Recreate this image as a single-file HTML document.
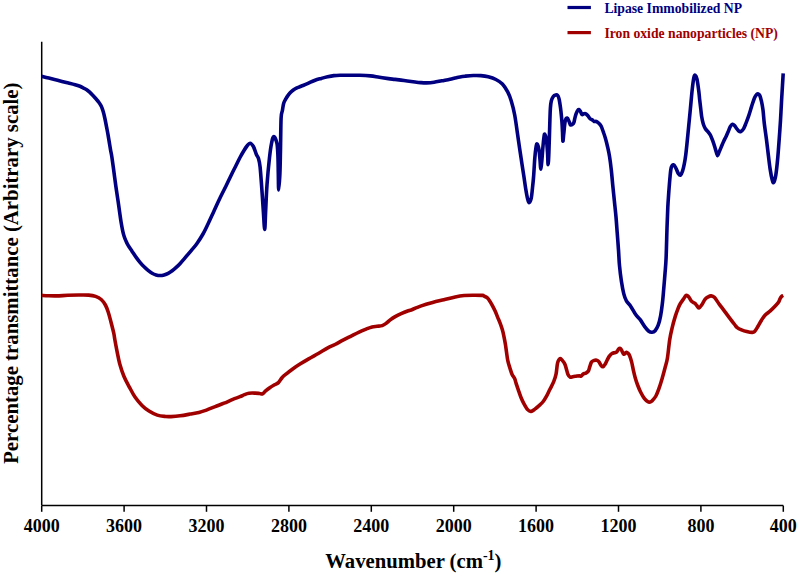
<!DOCTYPE html>
<html><head><meta charset="utf-8"><style>
html,body{margin:0;padding:0;background:#fff;}
svg{display:block;}
text{font-family:"Liberation Serif",serif;font-weight:bold;}
</style></head><body>
<svg width="797" height="575" viewBox="0 0 797 575">
<rect width="797" height="575" fill="#fff"/>
<g stroke="#000" stroke-width="1.5" fill="none">
<line x1="41.7" y1="41.7" x2="41.7" y2="505.6"/>
<line x1="41.7" y1="505.6" x2="783.3" y2="505.6"/>
<line x1="41.70" y1="505.6" x2="41.70" y2="511.8"/><line x1="124.10" y1="505.6" x2="124.10" y2="511.8"/><line x1="206.50" y1="505.6" x2="206.50" y2="511.8"/><line x1="288.90" y1="505.6" x2="288.90" y2="511.8"/><line x1="371.30" y1="505.6" x2="371.30" y2="511.8"/><line x1="453.70" y1="505.6" x2="453.70" y2="511.8"/><line x1="536.10" y1="505.6" x2="536.10" y2="511.8"/><line x1="618.50" y1="505.6" x2="618.50" y2="511.8"/><line x1="700.90" y1="505.6" x2="700.90" y2="511.8"/><line x1="783.30" y1="505.6" x2="783.30" y2="511.8"/>
</g>
<g font-size="18" fill="#000"><text x="41.70" y="532" text-anchor="middle">4000</text><text x="124.10" y="532" text-anchor="middle">3600</text><text x="206.50" y="532" text-anchor="middle">3200</text><text x="288.90" y="532" text-anchor="middle">2800</text><text x="371.30" y="532" text-anchor="middle">2400</text><text x="453.70" y="532" text-anchor="middle">2000</text><text x="536.10" y="532" text-anchor="middle">1600</text><text x="618.50" y="532" text-anchor="middle">1200</text><text x="700.90" y="532" text-anchor="middle">800</text><text x="783.30" y="532" text-anchor="middle">400</text></g>
<path d="M41.70,295.40 C42.80,295.47 45.80,295.72 48.30,295.80 C50.80,295.88 53.45,295.98 56.70,295.90 C59.95,295.82 64.10,295.45 67.80,295.30 C71.50,295.15 75.42,295.03 78.90,295.00 C82.38,294.97 85.92,294.87 88.70,295.10 C91.48,295.33 93.52,295.67 95.60,296.40 C97.68,297.13 99.57,298.07 101.20,299.50 C102.83,300.93 104.23,302.92 105.40,305.00 C106.57,307.08 107.28,309.22 108.20,312.00 C109.12,314.78 109.98,318.22 110.90,321.70 C111.82,325.18 113.03,329.85 113.70,332.90 C114.37,335.95 114.35,336.97 114.90,340.00 C115.45,343.03 116.20,347.15 117.00,351.10 C117.80,355.05 118.55,359.52 119.70,363.70 C120.85,367.88 122.27,372.27 123.90,376.20 C125.53,380.13 127.65,383.83 129.50,387.30 C131.35,390.77 132.92,393.98 135.00,397.00 C137.08,400.02 139.67,403.07 142.00,405.40 C144.33,407.73 146.45,409.38 149.00,411.00 C151.55,412.62 154.52,414.18 157.30,415.10 C160.08,416.02 163.42,416.25 165.70,416.50 C167.98,416.75 168.60,416.72 171.00,416.60 C173.40,416.48 176.92,416.22 180.10,415.80 C183.28,415.38 186.97,414.67 190.10,414.10 C193.23,413.53 196.18,413.07 198.90,412.40 C201.62,411.73 203.68,411.07 206.40,410.10 C209.12,409.13 212.27,407.75 215.20,406.60 C218.13,405.45 221.07,404.40 224.00,403.20 C226.93,402.00 230.13,400.48 232.80,399.40 C235.47,398.32 238.05,397.50 240.00,396.70 C241.95,395.90 243.00,395.18 244.50,394.60 C246.00,394.02 247.23,393.45 249.00,393.20 C250.77,392.95 253.33,393.05 255.10,393.10 C256.87,393.15 258.35,393.37 259.60,393.50 C260.85,393.63 261.60,394.33 262.60,393.90 C263.60,393.47 264.35,391.97 265.60,390.90 C266.85,389.83 268.60,388.52 270.10,387.50 C271.60,386.48 273.22,385.62 274.60,384.80 C275.98,383.98 277.13,383.82 278.40,382.60 C279.67,381.38 280.82,379.00 282.20,377.50 C283.58,376.00 284.95,375.02 286.70,373.60 C288.45,372.18 290.48,370.58 292.70,369.00 C294.92,367.42 297.33,365.78 300.00,364.10 C302.67,362.42 305.65,360.67 308.70,358.90 C311.75,357.13 315.12,355.33 318.30,353.50 C321.48,351.67 325.02,349.40 327.80,347.90 C330.58,346.40 332.47,345.78 335.00,344.50 C337.53,343.22 340.32,341.60 343.00,340.20 C345.68,338.80 348.42,337.45 351.10,336.10 C353.78,334.75 356.60,333.27 359.10,332.10 C361.60,330.93 363.93,329.97 366.10,329.10 C368.27,328.23 370.25,327.37 372.10,326.90 C373.95,326.43 375.52,326.52 377.20,326.30 C378.88,326.08 380.70,326.10 382.20,325.60 C383.70,325.10 384.87,324.25 386.20,323.30 C387.53,322.35 388.70,321.02 390.20,319.90 C391.70,318.78 393.37,317.65 395.20,316.60 C397.03,315.55 399.02,314.57 401.20,313.60 C403.38,312.63 406.83,311.33 408.30,310.80 C409.77,310.27 407.83,311.22 410.00,310.40 C412.17,309.58 417.53,307.22 421.30,305.90 C425.07,304.58 428.83,303.53 432.60,302.50 C436.37,301.47 440.13,300.63 443.90,299.70 C447.67,298.77 451.82,297.60 455.20,296.90 C458.58,296.20 461.20,295.78 464.20,295.50 C467.20,295.22 470.18,295.22 473.20,295.20 C476.22,295.18 480.47,295.23 482.30,295.40 C484.13,295.57 483.40,295.82 484.20,296.20 C485.00,296.58 486.18,296.92 487.10,297.70 C488.02,298.48 488.82,299.58 489.70,300.90 C490.58,302.22 491.52,303.95 492.40,305.60 C493.28,307.25 494.13,308.88 495.00,310.80 C495.87,312.72 496.73,315.02 497.60,317.10 C498.47,319.18 499.42,321.22 500.20,323.30 C500.98,325.38 501.70,327.52 502.30,329.60 C502.90,331.68 503.28,333.37 503.80,335.80 C504.32,338.23 504.95,341.50 505.40,344.20 C505.85,346.90 506.10,349.25 506.50,352.00 C506.90,354.75 507.23,358.03 507.80,360.70 C508.37,363.37 509.20,365.75 509.90,368.00 C510.60,370.25 511.22,372.43 512.00,374.20 C512.78,375.97 513.90,377.03 514.60,378.60 C515.30,380.17 515.58,381.72 516.20,383.60 C516.82,385.48 517.52,387.63 518.30,389.90 C519.08,392.17 519.95,394.88 520.90,397.20 C521.85,399.52 522.83,401.68 524.00,403.80 C525.17,405.92 526.73,408.63 527.90,409.90 C529.07,411.17 529.83,411.53 531.00,411.40 C532.17,411.27 533.60,410.02 534.90,409.10 C536.20,408.18 537.48,407.08 538.80,405.90 C540.12,404.72 541.48,403.68 542.80,402.00 C544.12,400.32 545.53,397.88 546.70,395.80 C547.87,393.72 548.63,391.85 549.80,389.50 C550.97,387.15 552.65,384.32 553.70,381.70 C554.75,379.08 555.45,376.93 556.10,373.80 C556.75,370.67 556.93,365.42 557.60,362.90 C558.27,360.38 559.28,359.08 560.10,358.70 C560.92,358.32 561.70,359.68 562.50,360.60 C563.30,361.52 564.23,362.73 564.90,364.20 C565.57,365.67 565.98,367.67 566.50,369.40 C567.02,371.13 567.40,373.30 568.00,374.60 C568.60,375.90 569.32,376.85 570.10,377.20 C570.88,377.55 571.73,376.87 572.70,376.70 C573.67,376.53 574.77,376.37 575.90,376.20 C577.03,376.03 578.63,375.70 579.50,375.70 C580.37,375.70 580.48,376.47 581.10,376.20 C581.72,375.93 582.42,374.62 583.20,374.10 C583.98,373.58 584.93,373.62 585.80,373.10 C586.67,372.58 587.72,372.13 588.40,371.00 C589.08,369.87 589.38,367.78 589.90,366.30 C590.42,364.82 590.88,363.05 591.50,362.10 C592.12,361.15 592.73,360.92 593.60,360.60 C594.47,360.28 595.83,360.03 596.70,360.20 C597.57,360.37 598.10,360.77 598.80,361.60 C599.50,362.43 600.20,364.33 600.90,365.20 C601.60,366.07 602.30,366.97 603.00,366.80 C603.70,366.63 604.40,365.33 605.10,364.20 C605.80,363.07 606.52,361.30 607.20,360.00 C607.88,358.70 608.43,357.47 609.20,356.40 C609.97,355.33 610.92,354.22 611.80,353.60 C612.68,352.98 613.72,352.93 614.50,352.70 C615.28,352.47 615.82,352.80 616.50,352.20 C617.18,351.60 617.98,349.73 618.60,349.10 C619.22,348.47 619.67,348.15 620.20,348.40 C620.73,348.65 621.20,349.62 621.80,350.60 C622.40,351.58 623.03,354.03 623.80,354.30 C624.57,354.57 625.62,352.28 626.40,352.20 C627.18,352.12 627.95,353.20 628.50,353.80 C629.05,354.40 629.18,354.45 629.70,355.80 C630.22,357.15 630.98,359.47 631.60,361.90 C632.22,364.33 632.80,367.77 633.40,370.40 C634.00,373.03 634.50,375.27 635.20,377.70 C635.90,380.13 636.68,382.57 637.60,385.00 C638.52,387.43 639.58,390.07 640.70,392.30 C641.82,394.53 643.08,396.82 644.30,398.40 C645.52,399.98 647.02,401.20 648.00,401.80 C648.98,402.40 649.50,402.17 650.20,402.00 C650.90,401.83 651.25,401.80 652.20,400.80 C653.15,399.80 654.78,398.02 655.90,396.00 C657.02,393.98 657.88,391.55 658.90,388.70 C659.92,385.85 660.98,382.35 662.00,378.90 C663.02,375.45 664.10,371.45 665.00,368.00 C665.90,364.55 666.62,362.92 667.40,358.20 C668.18,353.48 668.90,344.80 669.70,339.70 C670.50,334.60 671.28,331.45 672.20,327.60 C673.12,323.75 674.20,319.85 675.20,316.60 C676.20,313.35 677.38,310.20 678.20,308.10 C679.02,306.00 679.28,305.42 680.10,304.00 C680.92,302.58 682.08,301.03 683.10,299.60 C684.12,298.17 685.28,295.88 686.20,295.40 C687.12,294.92 687.70,295.72 688.60,296.70 C689.50,297.68 690.58,300.22 691.60,301.30 C692.62,302.38 693.83,302.50 694.70,303.20 C695.57,303.90 696.10,304.70 696.80,305.50 C697.50,306.30 698.03,308.17 698.90,308.00 C699.77,307.83 700.98,305.95 702.00,304.50 C703.02,303.05 704.00,300.55 705.00,299.30 C706.00,298.05 706.98,297.57 708.00,297.00 C709.02,296.43 710.00,295.80 711.10,295.90 C712.20,296.00 713.30,296.30 714.60,297.60 C715.90,298.90 717.32,301.53 718.90,303.70 C720.48,305.87 722.37,308.28 724.10,310.60 C725.83,312.92 727.55,315.28 729.30,317.60 C731.05,319.92 733.28,322.83 734.60,324.50 C735.92,326.17 736.05,326.72 737.20,327.60 C738.35,328.48 739.92,329.15 741.50,329.80 C743.08,330.45 744.95,331.07 746.70,331.50 C748.45,331.93 750.68,332.40 752.00,332.40 C753.32,332.40 753.60,332.52 754.60,331.50 C755.60,330.48 756.85,328.18 758.00,326.30 C759.15,324.42 760.33,322.05 761.50,320.20 C762.67,318.35 763.53,316.75 765.00,315.20 C766.47,313.65 768.63,312.38 770.30,310.90 C771.97,309.42 773.63,307.75 775.00,306.30 C776.37,304.85 777.65,303.48 778.50,302.20 C779.35,300.92 779.52,299.63 780.10,298.60 C780.68,297.57 781.48,296.53 782.00,296.00 C782.52,295.47 783.00,295.50 783.20,295.40" fill="none" stroke="#a00000" stroke-width="3.6" stroke-linejoin="round" stroke-linecap="butt"/>
<path d="M41.70,76.20 C42.88,76.52 46.15,77.42 48.80,78.10 C51.45,78.78 54.68,79.57 57.60,80.30 C60.52,81.03 63.38,81.77 66.30,82.50 C69.22,83.23 72.82,84.07 75.10,84.70 C77.38,85.33 78.67,85.78 80.00,86.30 C81.33,86.82 82.05,87.28 83.10,87.80 C84.15,88.32 85.25,88.72 86.30,89.40 C87.35,90.08 88.37,90.97 89.40,91.90 C90.43,92.83 91.45,93.90 92.50,95.00 C93.55,96.10 94.65,97.30 95.70,98.50 C96.75,99.70 97.87,100.90 98.80,102.20 C99.73,103.50 100.57,104.73 101.30,106.30 C102.03,107.87 102.58,109.48 103.20,111.60 C103.82,113.72 104.42,116.32 105.00,119.00 C105.58,121.68 106.20,125.10 106.70,127.70 C107.20,130.30 107.57,132.15 108.00,134.60 C108.43,137.05 108.87,139.78 109.30,142.40 C109.73,145.02 110.17,147.83 110.60,150.30 C111.03,152.77 111.23,152.75 111.90,157.20 C112.57,161.65 113.85,171.53 114.60,177.00 C115.35,182.47 115.80,185.83 116.40,190.00 C117.00,194.17 117.67,198.33 118.20,202.00 C118.73,205.67 119.12,208.62 119.60,212.00 C120.08,215.38 120.57,219.08 121.10,222.30 C121.63,225.52 122.28,228.93 122.80,231.30 C123.32,233.67 123.70,234.95 124.20,236.50 C124.70,238.05 125.17,239.15 125.80,240.60 C126.43,242.05 126.97,243.43 128.00,245.20 C129.03,246.97 130.67,249.22 132.00,251.20 C133.33,253.18 134.67,255.25 136.00,257.10 C137.33,258.95 138.65,260.68 140.00,262.30 C141.35,263.92 142.75,265.45 144.10,266.80 C145.45,268.15 146.77,269.33 148.10,270.40 C149.43,271.47 150.77,272.45 152.10,273.20 C153.43,273.95 154.77,274.52 156.10,274.90 C157.43,275.28 158.77,275.50 160.10,275.50 C161.43,275.50 162.75,275.27 164.10,274.90 C165.45,274.53 166.85,274.00 168.20,273.30 C169.55,272.60 170.87,271.68 172.20,270.70 C173.53,269.72 174.87,268.62 176.20,267.40 C177.53,266.18 178.87,264.82 180.20,263.40 C181.53,261.98 182.87,260.45 184.20,258.90 C185.53,257.35 186.90,255.65 188.20,254.10 C189.50,252.55 190.57,251.33 192.00,249.60 C193.43,247.87 194.97,246.30 196.80,243.70 C198.63,241.10 201.13,237.28 203.00,234.00 C204.87,230.72 206.17,227.83 208.00,224.00 C209.83,220.17 212.00,215.33 214.00,211.00 C216.00,206.67 218.00,202.17 220.00,198.00 C222.00,193.83 224.00,190.08 226.00,186.00 C228.00,181.92 230.33,176.92 232.00,173.50 C233.67,170.08 234.67,168.17 236.00,165.50 C237.33,162.83 238.67,160.00 240.00,157.50 C241.33,155.00 242.83,152.42 244.00,150.50 C245.17,148.58 246.00,147.22 247.00,146.00 C248.00,144.78 248.93,143.12 250.00,143.20 C251.07,143.28 252.33,144.62 253.40,146.50 C254.47,148.38 255.57,152.53 256.40,154.50 C257.23,156.47 257.78,156.22 258.40,158.30 C259.02,160.38 259.52,161.72 260.10,167.00 C260.68,172.28 261.35,182.47 261.90,190.00 C262.45,197.53 262.93,205.62 263.40,212.20 C263.87,218.78 264.33,229.50 264.70,229.50 C265.07,229.50 265.22,219.65 265.60,212.20 C265.98,204.75 266.35,193.90 267.00,184.80 C267.65,175.70 268.73,164.57 269.50,157.60 C270.27,150.63 270.88,146.52 271.60,143.00 C272.32,139.48 272.92,136.47 273.80,136.50 C274.68,136.53 276.22,140.05 276.90,143.20 C277.58,146.35 277.67,150.33 277.90,155.40 C278.13,160.47 278.17,167.83 278.30,173.60 C278.43,179.37 278.43,190.00 278.70,190.00 C278.97,190.00 279.60,180.38 279.90,173.60 C280.20,166.82 280.30,158.57 280.50,149.30 C280.70,140.03 280.78,124.47 281.10,118.00 C281.42,111.53 281.97,112.97 282.40,110.50 C282.83,108.03 283.13,105.13 283.70,103.20 C284.27,101.27 285.02,100.30 285.80,98.90 C286.58,97.50 287.43,96.05 288.40,94.80 C289.37,93.55 290.47,92.40 291.60,91.40 C292.73,90.40 293.98,89.52 295.20,88.80 C296.42,88.08 297.60,87.65 298.90,87.10 C300.20,86.55 301.48,86.12 303.00,85.50 C304.52,84.88 305.98,84.28 308.00,83.40 C310.02,82.52 312.87,81.03 315.10,80.20 C317.33,79.37 319.32,78.97 321.40,78.40 C323.48,77.83 325.52,77.27 327.60,76.80 C329.68,76.33 331.83,75.87 333.90,75.60 C335.97,75.33 337.68,75.25 340.00,75.20 C342.32,75.15 344.50,75.28 347.80,75.30 C351.10,75.32 356.03,75.20 359.80,75.30 C363.57,75.40 367.13,75.57 370.40,75.90 C373.67,76.23 376.40,76.85 379.40,77.30 C382.40,77.75 385.80,78.25 388.40,78.60 C391.00,78.95 392.40,79.08 395.00,79.40 C397.60,79.72 400.98,80.12 404.00,80.50 C407.02,80.88 410.33,81.35 413.10,81.70 C415.87,82.05 418.35,82.40 420.60,82.60 C422.85,82.80 424.35,82.95 426.60,82.90 C428.85,82.85 431.58,82.65 434.10,82.30 C436.62,81.95 439.05,81.32 441.70,80.80 C444.35,80.28 447.78,79.67 450.00,79.20 C452.22,78.73 453.33,78.38 455.00,78.00 C456.67,77.62 458.33,77.20 460.00,76.90 C461.67,76.60 462.78,76.43 465.00,76.20 C467.22,75.97 470.67,75.60 473.30,75.50 C475.93,75.40 478.30,75.38 480.80,75.60 C483.30,75.82 485.78,76.15 488.30,76.80 C490.82,77.45 493.55,78.30 495.90,79.50 C498.25,80.70 500.43,81.93 502.40,84.00 C504.37,86.07 506.23,89.12 507.70,91.90 C509.17,94.68 510.03,96.85 511.20,100.70 C512.37,104.55 513.50,108.45 514.70,115.00 C515.90,121.55 517.48,133.80 518.40,140.00 C519.32,146.20 519.60,148.15 520.20,152.20 C520.80,156.25 521.38,160.25 522.00,164.30 C522.62,168.35 523.28,172.43 523.90,176.50 C524.52,180.57 525.10,185.05 525.70,188.70 C526.30,192.35 526.93,196.07 527.50,198.40 C528.07,200.73 528.48,202.70 529.10,202.70 C529.72,202.70 530.65,200.73 531.20,198.40 C531.75,196.07 532.00,192.35 532.40,188.70 C532.80,185.05 533.20,181.58 533.60,176.50 C534.00,171.42 534.40,163.07 534.80,158.20 C535.20,153.33 535.62,149.67 536.00,147.30 C536.38,144.93 536.62,143.68 537.10,144.00 C537.58,144.32 538.40,146.37 538.90,149.20 C539.40,152.03 539.80,157.67 540.10,161.00 C540.40,164.33 540.42,169.20 540.70,169.20 C540.98,169.20 541.42,164.83 541.80,161.00 C542.18,157.17 542.62,150.38 543.00,146.20 C543.38,142.02 543.80,137.87 544.10,135.90 C544.40,133.93 544.43,133.92 544.80,134.40 C545.17,134.88 545.85,135.83 546.30,138.80 C546.75,141.77 547.20,147.88 547.50,152.20 C547.80,156.52 547.87,164.70 548.10,164.70 C548.33,164.70 548.60,159.65 548.90,152.20 C549.20,144.75 549.65,127.37 549.90,120.00 C550.15,112.63 550.17,111.17 550.40,108.00 C550.63,104.83 550.82,102.92 551.30,101.00 C551.78,99.08 552.57,97.50 553.30,96.50 C554.03,95.50 554.98,95.18 555.70,95.00 C556.42,94.82 557.05,94.80 557.60,95.40 C558.15,96.00 558.60,97.12 559.00,98.60 C559.40,100.08 559.68,102.23 560.00,104.30 C560.32,106.37 560.58,108.12 560.90,111.00 C561.22,113.88 561.63,118.10 561.90,121.60 C562.17,125.10 562.33,128.73 562.50,132.00 C562.67,135.27 562.70,140.80 562.90,141.20 C563.10,141.60 563.32,137.75 563.70,134.40 C564.08,131.05 564.60,123.82 565.20,121.10 C565.80,118.38 566.63,117.98 567.30,118.10 C567.97,118.22 568.67,120.67 569.20,121.80 C569.73,122.93 569.92,124.50 570.50,124.90 C571.08,125.30 572.12,124.67 572.70,124.20 C573.28,123.73 573.55,123.48 574.00,122.10 C574.45,120.72 574.85,117.75 575.40,115.90 C575.95,114.05 576.72,112.05 577.30,111.00 C577.88,109.95 578.35,109.48 578.90,109.60 C579.45,109.72 580.08,110.88 580.60,111.70 C581.12,112.52 581.47,114.15 582.00,114.50 C582.53,114.85 583.15,113.92 583.80,113.80 C584.45,113.68 585.20,113.45 585.90,113.80 C586.60,114.15 587.30,115.08 588.00,115.90 C588.70,116.72 589.42,118.05 590.10,118.70 C590.78,119.35 591.42,119.33 592.10,119.80 C592.78,120.27 593.50,121.22 594.20,121.50 C594.90,121.78 595.48,121.17 596.30,121.50 C597.12,121.83 598.28,122.70 599.10,123.50 C599.92,124.30 600.50,124.90 601.20,126.30 C601.90,127.70 602.60,129.92 603.30,131.90 C604.00,133.88 604.70,135.77 605.40,138.20 C606.10,140.63 606.82,143.48 607.50,146.50 C608.18,149.52 608.87,152.38 609.50,156.30 C610.13,160.22 610.75,165.10 611.30,170.00 C611.85,174.90 612.28,180.48 612.80,185.70 C613.32,190.92 613.87,196.08 614.40,201.30 C614.93,206.52 615.53,211.77 616.00,217.00 C616.47,222.23 616.78,227.20 617.20,232.70 C617.62,238.20 618.12,244.50 618.50,250.00 C618.88,255.50 619.02,260.48 619.50,265.70 C619.98,270.92 620.68,276.60 621.40,281.30 C622.12,286.00 622.97,290.63 623.80,293.90 C624.63,297.17 625.23,298.82 626.40,300.90 C627.57,302.98 629.28,304.18 630.80,306.40 C632.32,308.62 633.93,311.98 635.50,314.20 C637.07,316.42 638.63,317.60 640.20,319.70 C641.77,321.80 643.47,324.88 644.90,326.80 C646.33,328.72 647.62,330.30 648.80,331.20 C649.98,332.10 650.95,332.28 652.00,332.20 C653.05,332.12 654.07,331.87 655.10,330.70 C656.13,329.53 657.28,327.68 658.20,325.20 C659.12,322.72 659.90,319.45 660.60,315.80 C661.30,312.15 661.88,307.73 662.40,303.30 C662.92,298.87 663.27,294.17 663.70,289.20 C664.13,284.23 664.60,278.73 665.00,273.50 C665.40,268.27 665.77,265.33 666.10,257.80 C666.43,250.27 666.72,236.70 667.00,228.30 C667.28,219.90 667.52,213.20 667.80,207.40 C668.08,201.60 668.32,198.72 668.70,193.50 C669.08,188.28 669.67,180.45 670.10,176.10 C670.53,171.75 670.72,169.28 671.30,167.40 C671.88,165.52 672.82,164.65 673.60,164.80 C674.38,164.95 675.22,166.85 676.00,168.30 C676.78,169.75 677.55,172.35 678.30,173.50 C679.05,174.65 679.78,175.63 680.50,175.20 C681.22,174.77 681.97,172.78 682.60,170.90 C683.23,169.02 683.78,166.52 684.30,163.90 C684.82,161.28 685.25,158.60 685.70,155.20 C686.15,151.80 686.50,148.35 687.00,143.50 C687.50,138.65 688.13,131.90 688.70,126.10 C689.27,120.30 689.82,114.78 690.40,108.70 C690.98,102.62 691.62,94.82 692.20,89.60 C692.78,84.38 693.38,79.78 693.90,77.40 C694.42,75.02 694.78,75.02 695.30,75.30 C695.82,75.58 696.42,76.43 697.00,79.10 C697.58,81.77 698.35,87.82 698.80,91.30 C699.25,94.78 699.38,97.15 699.70,100.00 C700.02,102.85 700.37,105.62 700.70,108.40 C701.03,111.18 701.27,114.10 701.70,116.70 C702.13,119.30 702.68,122.00 703.30,124.00 C703.92,126.00 704.53,127.30 705.40,128.70 C706.27,130.10 707.63,131.27 708.50,132.40 C709.37,133.53 709.90,134.12 710.60,135.50 C711.30,136.88 712.00,138.78 712.70,140.70 C713.40,142.62 714.18,145.03 714.80,147.00 C715.42,148.97 715.93,151.07 716.40,152.50 C716.87,153.93 717.15,155.67 717.60,155.60 C718.05,155.53 718.50,153.52 719.10,152.10 C719.70,150.68 720.43,148.92 721.20,147.10 C721.97,145.28 722.87,143.02 723.70,141.20 C724.53,139.38 725.37,138.00 726.20,136.20 C727.03,134.40 728.00,132.03 728.70,130.40 C729.40,128.77 729.77,127.43 730.40,126.40 C731.03,125.37 731.82,124.37 732.50,124.20 C733.18,124.03 733.82,124.68 734.50,125.40 C735.18,126.12 735.90,127.57 736.60,128.50 C737.30,129.43 738.00,130.50 738.70,131.00 C739.40,131.50 740.00,131.85 740.80,131.50 C741.60,131.15 742.63,130.30 743.50,128.90 C744.37,127.50 745.17,125.18 746.00,123.10 C746.83,121.02 747.73,118.63 748.50,116.40 C749.27,114.17 749.90,111.93 750.60,109.70 C751.30,107.47 752.00,105.08 752.70,103.00 C753.40,100.92 754.10,98.65 754.80,97.20 C755.50,95.75 756.35,94.87 756.90,94.30 C757.45,93.73 757.62,93.60 758.10,93.80 C758.58,94.00 759.23,94.23 759.80,95.50 C760.37,96.77 760.97,98.98 761.50,101.40 C762.03,103.82 762.53,106.32 763.00,110.00 C763.47,113.68 763.73,118.65 764.30,123.50 C764.87,128.35 765.73,133.88 766.40,139.10 C767.07,144.32 767.68,149.83 768.30,154.80 C768.92,159.77 769.45,164.73 770.10,168.90 C770.75,173.07 771.60,177.55 772.20,179.80 C772.80,182.05 773.10,183.18 773.70,182.40 C774.30,181.62 775.15,178.92 775.80,175.10 C776.45,171.28 777.03,165.50 777.60,159.50 C778.17,153.50 778.72,145.63 779.20,139.10 C779.68,132.57 780.10,126.82 780.50,120.30 C780.90,113.78 781.27,105.88 781.60,100.00 C781.93,94.12 782.23,89.43 782.50,85.00 C782.77,80.57 783.08,75.33 783.20,73.40" fill="none" stroke="#000080" stroke-width="3.6" stroke-linejoin="round" stroke-linecap="butt"/>
<line x1="567.5" y1="7.5" x2="590.9" y2="7.5" stroke="#000080" stroke-width="3.2"/>
<line x1="567.5" y1="32.6" x2="590.9" y2="32.6" stroke="#a00000" stroke-width="3.2"/>
<text x="604.4" y="12.8" font-size="13.7" fill="#000080">Lipase Immobilized NP</text>
<text x="604.4" y="37.6" font-size="13.7" fill="#a00000">Iron oxide nanoparticles (NP)</text>
<text x="325.3" y="567.6" font-size="20.7" fill="#000">Wavenumber (cm<tspan font-size="14" dy="-8">-1</tspan><tspan dy="8">)</tspan></text>
<text transform="translate(18.2,273.2) rotate(-90)" text-anchor="middle" font-size="20.8" fill="#000">Percentage transmittance (Arbitrary scale)</text>
</svg>
</body></html>
